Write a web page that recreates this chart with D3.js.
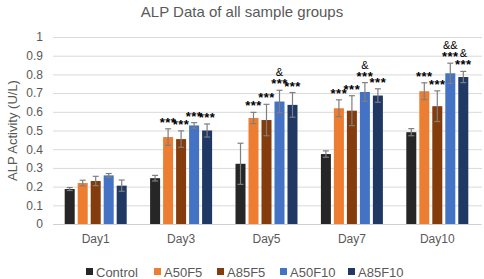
<!DOCTYPE html>
<html lang="en">
<head>
  <meta charset="UTF-8">
  <style type="text/css">
    body {margin:0; background:#fff; font-family:"Liberation Sans", Arial, sans-serif;}
    .tick text {font: 12px "Liberation Sans", Arial, sans-serif; fill:#595959;}
    .title {font: 15px "Liberation Sans", Arial, sans-serif; fill:#595959;}
    .label {font: 13px "Liberation Sans", Arial, sans-serif; fill:#595959;}
    .legend {font: 13px "Liberation Sans", Arial, sans-serif; fill:#595959;}
  </style>
  <title>ALP Data</title>
</head>
<body>
  <svg id="chart" width="484" height="279"></svg>

  <script src="https://cdn.jsdelivr.net/npm/d3@7"></script>
  <script type="text/javascript">
    var days = ["Day1", "Day3", "Day5", "Day7", "Day10"];
    var groups = ["Control", "A50F5", "A85F5", "A50F10", "A85F10"];
    var colors = ["#262626", "#ED7D31", "#843C0C", "#4472C4", "#1F3864"];
    var yTicks = [0, 0.1, 0.2, 0.3, 0.4, 0.5, 0.6, 0.7, 0.8, 0.9, 1];

    // mean per day, one array per group
    var control = [0.187, 0.245, 0.322, 0.374, 0.491];
    var a50f5   = [0.219, 0.465, 0.567, 0.619, 0.710];
    var a85f5   = [0.230, 0.454, 0.556, 0.606, 0.630];
    var a50f10  = [0.260, 0.527, 0.655, 0.706, 0.806];
    var a85f10  = [0.205, 0.500, 0.637, 0.687, 0.786];

    // error (+/-)
    var errControl = [0.008, 0.015, 0.110, 0.017, 0.019];
    var errA50f5   = [0.015, 0.044, 0.030, 0.045, 0.045];
    var errA85f5   = [0.025, 0.044, 0.084, 0.080, 0.082];
    var errA50f10  = [0.010, 0.015, 0.060, 0.050, 0.054];
    var errA85f10  = [0.030, 0.035, 0.066, 0.036, 0.030];

    // significance marks
    var starsControl = ["", "", "", "", ""];
    var starsA50f5   = ["", "***", "***", "***", "***"];
    var starsA85f5   = ["", "***", "***", "***", "***"];
    var starsA50f10  = ["", "***", "***", "***", "***"];
    var starsA85f10  = ["", "***", "***", "***", "***"];
    var ampA50f10    = ["", "", "&", "&", "&&"];
    var ampA85f10    = ["", "", "", "", "&"];

    var means = [control, a50f5, a85f5, a50f10, a85f10];
    var errs = [errControl, errA50f5, errA85f5, errA50f10, errA85f10];
    var stars = [starsControl, starsA50f5, starsA85f5, starsA50f10, starsA85f10];
    var amps = [["","","","",""], ["","","","",""], ["","","","",""], ampA50f10, ampA85f10];

    var rows = [];
    days.forEach(function(day, di) {
      groups.forEach(function(g, gi) {
        rows.push({day: day, group: g, gi: gi, v: means[gi][di], e: errs[gi][di],
                   s: stars[gi][di], a: amps[gi][di]});
      });
    });

    var svg = d3.select("#chart");
    var margin = {top: 37, left: 53, right: 2, bottom: 55};
    var width = +svg.attr("width") - margin.left - margin.right,
        height = +svg.attr("height") - margin.top - margin.bottom;

    var x0 = d3.scaleBand().domain(days).range([0, width - 2]);
    var x1 = d3.scaleBand().domain(groups).range([0, x0.bandwidth()]).paddingInner(0.23).paddingOuter(0.9);
    var y = d3.scaleLinear().domain([0, 1]).range([height, 0]);

    var g = svg.append("g").attr("transform", "translate(" + margin.left + "," + margin.top + ")");

    // title
    svg.append("text").attr("class", "title")
      .attr("x", 242).attr("y", 17).attr("text-anchor", "middle")
      .text("ALP Data of all sample groups");

    // y axis with grid
    var yAxis = g.append("g")
      .call(d3.axisLeft(y).tickValues(yTicks).tickFormat(d3.format("")).tickSize(-width).tickPadding(10));
    yAxis.select(".domain").remove();
    yAxis.selectAll(".tick line").attr("stroke", "#D9D9D9");

    // x axis
    var xAxis = g.append("g")
      .attr("transform", "translate(0," + height + ")")
      .call(d3.axisBottom(x0).tickSize(0).tickPadding(10));
    xAxis.select(".domain").attr("stroke", "#D0D0D0");

    // y label
    svg.append("text").attr("class", "label")
      .attr("transform", "translate(17," + (margin.top + y(0.5)) + ") rotate(-90)")
      .attr("text-anchor", "middle")
      .text("ALP Activity (U/L)");

    // bars
    g.selectAll(".bar")
      .data(rows)
      .enter().append("rect")
        .attr("class", "bar")
        .attr("x", function(d) { return x0(d.day) + x1(d.group); })
        .attr("y", function(d) { return y(d.v); })
        .attr("width", x1.bandwidth())
        .attr("height", function(d) { return height - y(d.v); })
        .style("fill", function(d) { return colors[d.gi]; });

    // error bars
    var eb = g.selectAll(".err").data(rows).enter().append("g").attr("class", "err")
      .attr("transform", function(d) { return "translate(" + (x0(d.day) + x1(d.group) + x1.bandwidth() / 2) + ",0)"; })
      .attr("stroke", "#7F7F7F").attr("stroke-width", 1.2);
    eb.append("line")
      .attr("y1", function(d) { return y(d.v - d.e); })
      .attr("y2", function(d) { return y(d.v + d.e); });
    eb.append("line").attr("x1", -3).attr("x2", 3)
      .attr("y1", function(d) { return y(d.v + d.e); })
      .attr("y2", function(d) { return y(d.v + d.e); });
    eb.append("line").attr("x1", -3).attr("x2", 3)
      .attr("y1", function(d) { return y(d.v - d.e); })
      .attr("y2", function(d) { return y(d.v - d.e); });

    // significance
    g.selectAll(".star").data(rows.filter(function(d) { return d.s; }))
      .enter().append("text")
        .attr("x", function(d) { return x0(d.day) + x1(d.group) + x1.bandwidth() / 2; })
        .attr("y", function(d) { return y(d.v + d.e) - 2; })
        .attr("text-anchor", "middle")
        .style("font", "bold 13px 'Liberation Sans', Arial, sans-serif")
        .style("letter-spacing", "0.5px")
        .style("fill", "#000")
        .text(function(d) { return d.s; });

    g.selectAll(".amp").data(rows.filter(function(d) { return d.a; }))
      .enter().append("text")
        .attr("x", function(d) { return x0(d.day) + x1(d.group) + x1.bandwidth() / 2; })
        .attr("y", function(d) { return y(d.v + d.e) - 14; })
        .attr("text-anchor", "middle")
        .style("font", "11px 'Liberation Sans', Arial, sans-serif")
        .style("fill", "#000")
        .text(function(d) { return d.a; });

    // legend
    var legendX = [86, 154, 217, 280, 348];
    var lg = svg.selectAll(".lg").data(groups).enter().append("g")
      .attr("transform", function(d, i) { return "translate(" + legendX[i] + ",272)"; });
    lg.append("rect").attr("x", 0).attr("y", -4).attr("width", 7).attr("height", 7)
      .style("fill", function(d, i) { return colors[i]; });
    lg.append("text").attr("class", "legend").attr("x", 10).attr("y", 4.5).text(function(d) { return d; });
  </script>
</body>
</html>
